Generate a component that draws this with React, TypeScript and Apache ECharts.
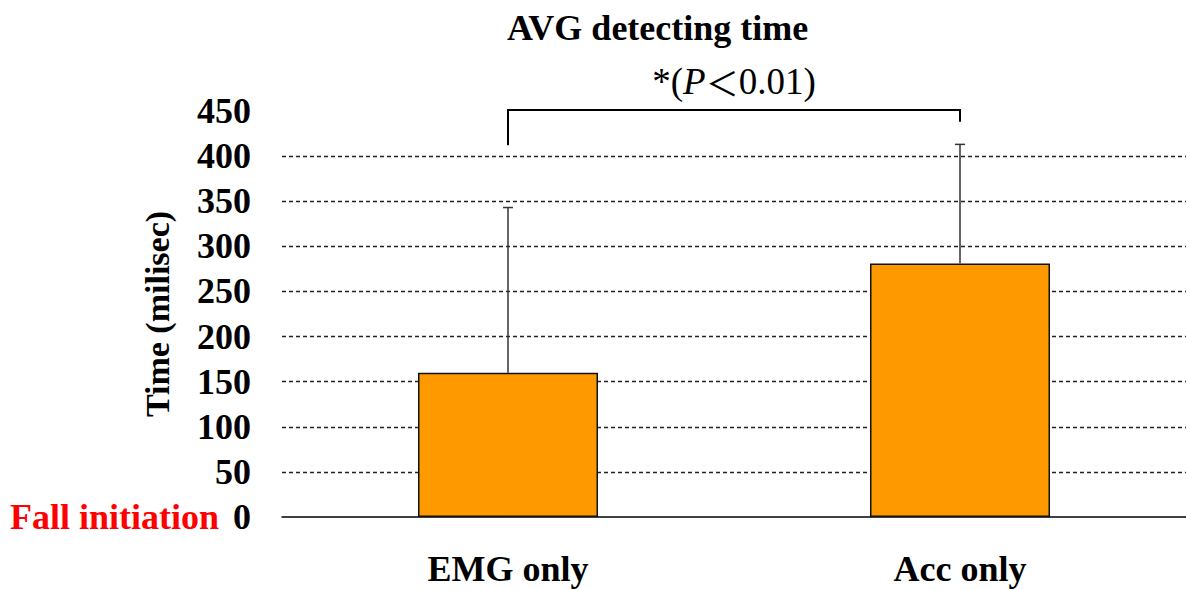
import React, { useEffect, useRef } from "react";
import * as echarts from "echarts";

const categories = ["EMG only", "Acc only"];
const means = [160, 281];
const errorsUp = [183, 132];
const yMax = 450;
const yInterval = 50;
const bracketLegs = [412, 438];
const bracketTop = 451;
const titleText = "AVG detecting time";
const yName = "Time (milisec)";
const zeroLabel = "Fall initiation";

const SERIF = "'Liberation Serif', 'Times New Roman', serif";

export default function App() {
  const ref = useRef<HTMLDivElement>(null);
  useEffect(() => {
    if (!ref.current) return;
    const chart = echarts.init(ref.current, null, { renderer: "svg" });
    const option: any = {
      animation: false,
      backgroundColor: "#ffffff",
      title: {
        text: titleText,
        left: 502,
        top: 5,
        textStyle: { fontFamily: SERIF, fontWeight: "bold", fontSize: 36, color: "#000" },
      },
      grid: { left: 282, right: 0, top: 111, bottom: 73, containLabel: false, outerBoundsMode: "none" },
      xAxis: {
        type: "category",
        data: categories,
        axisLine: { show: true, lineStyle: { color: "#000", width: 1.5 } },
        axisTick: { show: false },
        axisLabel: {
          margin: 34,
          fontFamily: SERIF,
          fontWeight: "bold",
          fontSize: 36,
          color: "#000",
        },
      },
      yAxis: {
        type: "value",
        min: 0,
        max: yMax,
        interval: yInterval,
        name: yName,
        nameLocation: "middle",
        nameGap: 108,
        nameRotate: 90,
        nameMoveOverlap: false,
        nameTextStyle: { fontFamily: SERIF, fontWeight: "bold", fontSize: 34, color: "#000" },
        axisLine: { show: false },
        axisTick: { show: false },
        splitLine: {
          show: true,
          showMaxLine: false,
          showMinLine: false,
          lineStyle: { color: "#222", type: [4, 3], width: 1.4 },
        },
        axisLabel: {
          margin: 31,
          fontFamily: SERIF,
          fontWeight: "bold",
          fontSize: 36,
          color: "#000",
          formatter: (v: number) => (v === 0 ? `{r|${zeroLabel}}{n|0}` : `${v}`),
          rich: {
            r: { fontFamily: SERIF, fontWeight: "bold", fontSize: 36, color: "#ff0000", padding: [0, 14, 0, 0] },
            n: { fontFamily: SERIF, fontWeight: "bold", fontSize: 36, color: "#000" },
          },
        },
      },
      series: [
        {
          type: "bar",
          data: means,
          barWidth: 180,
          itemStyle: { color: "#ff9900", borderColor: "#111", borderWidth: 1.5 },
          z: 2,
        },
        {
          type: "custom",
          z: 3,
          data: categories.map((_, i) => [i, means[i], means[i] + errorsUp[i]]),
          encode: { x: 0, y: [1, 2] },
          renderItem: (params: any, api: any) => {
            const b = api.coord([api.value(0), api.value(1)]);
            const t = api.coord([api.value(0), api.value(2)]);
            const style = { stroke: "#333", lineWidth: 1.5 };
            return {
              type: "group",
              children: [
                { type: "line", shape: { x1: b[0], y1: b[1], x2: t[0], y2: t[1] }, style },
                { type: "line", shape: { x1: t[0] - 5, y1: t[1], x2: t[0] + 5, y2: t[1] }, style },
              ],
            };
          },
        },
        {
          type: "custom",
          z: 4,
          clip: false,
          data: [[0, bracketLegs[0], bracketTop, 1, bracketLegs[1]]],
          encode: { x: 0, y: 1 },
          renderItem: (params: any, api: any) => {
            const p1 = api.coord([api.value(0), api.value(1)]);
            const p2 = api.coord([api.value(0), api.value(2)]);
            const p3 = api.coord([api.value(3), api.value(2)]);
            const p4 = api.coord([api.value(3), api.value(4)]);
            return {
              type: "group",
              children: [
                {
                  type: "polyline",
                  shape: { points: [p1, p2, p3, p4] },
                  style: { stroke: "#000", lineWidth: 2, fill: null },
                },
                {
                  type: "text",
                  x: (p2[0] + p3[0]) / 2,
                  y: p2[1] - 10,
                  style: {
                    text: "{a|*(}{p|P}{c|＜}{a|0.01)}",
                    align: "center",
                    verticalAlign: "bottom",
                    rich: {
                      a: { fontFamily: SERIF, fontSize: 37, fill: "#000", color: "#000" },
                      p: { fontFamily: SERIF, fontSize: 37, fontStyle: "italic", fill: "#000", color: "#000" },
                      c: { fontFamily: "'Noto Sans CJK JP', sans-serif", fontSize: 33, fill: "#000", color: "#000" },
                    },
                  },
                },
              ],
            };
          },
        },
      ],
    };
    chart.setOption(option);
    return () => chart.dispose();
  }, []);
  return (
    <div
      ref={ref}
      style={{ position: "fixed", left: 0, top: 0, width: 1186, height: 590, background: "#fff" }}
    />
  );
}
